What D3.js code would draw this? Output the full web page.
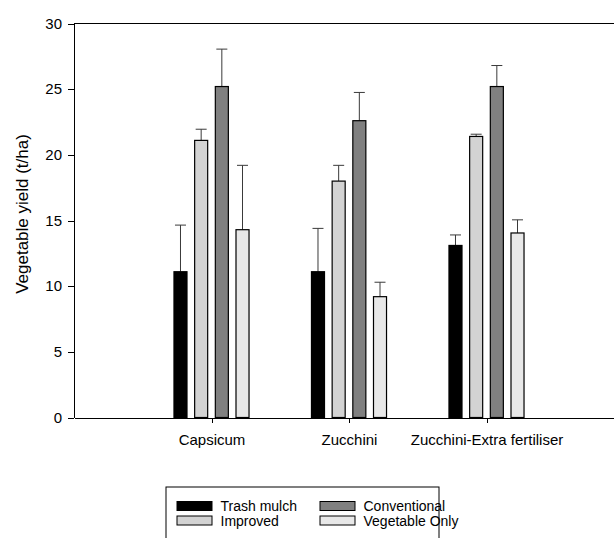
<!DOCTYPE html>
<meta charset="utf-8">
<style>
    body {
        margin: 0;
        background: #fff;
        font-family: "Liberation Sans", Arial, sans-serif;
    }

    .axis path,
    .axis line {
        fill: none;
        stroke: #000;
        shape-rendering: crispEdges;
    }

    .axis text {
        font-family: "Liberation Sans", Arial, sans-serif;
        font-size: 15px;
        fill: #000;
    }
</style>

<body>
    <script src="https://cdn.jsdelivr.net/npm/d3@7"></script>
    <script>

        // data
        var crops = ["Capsicum", "Zucchini", "Zucchini-Extra fertiliser"];
        var treatments = ["Trash mulch", "Improved", "Conventional", "Vegetable Only"];
        var colours = ["#000000", "#d3d3d3", "#808080", "#e8e8e8"];

        var trashMulch = [11.1, 11.1, 13.1];
        var improved = [21.1, 18.0, 21.4];
        var conventional = [25.2, 22.6, 25.2];
        var vegetableOnly = [14.3, 9.2, 14.05];

        var trashMulchErr = [3.55, 3.3, 0.8];
        var improvedErr = [0.85, 1.2, 0.17];
        var conventionalErr = [2.85, 2.15, 1.6];
        var vegetableOnlyErr = [4.9, 1.1, 1.0];

        var yTicks = [0, 5, 10, 15, 20, 25, 30];

        var values = [trashMulch, improved, conventional, vegetableOnly];
        var errors = [trashMulchErr, improvedErr, conventionalErr, vegetableOnlyErr];

        var data = [];
        crops.forEach(function (c, i) {
            treatments.forEach(function (t, j) {
                data.push({ crop: c, treatment: t, value: values[j][i], err: errors[j][i] });
            });
        });

        var margin = { top: 23.5, left: 74 },
            width = 550,
            height = 394;

        var svg = d3.select("body").append("svg")
            .attr("width", 614)
            .attr("height", 538);

        var g = svg.append("g")
            .attr("transform", "translate(" + margin.left + "," + margin.top + ")");

        var x = d3.scalePoint().domain(crops).range([0, width]).padding(1);
        var x1 = d3.scaleBand().domain(treatments)
            .range([-41.35, 41.35])
            .paddingInner(0.37)
            .paddingOuter(0.185);
        var y = d3.scaleLinear().domain([0, 30]).range([height, 0]);
        var color = d3.scaleOrdinal().domain(treatments).range(colours);

        // frame top line
        g.append("line")
            .attr("x1", 0).attr("x2", width)
            .attr("y1", 0).attr("y2", 0)
            .attr("stroke", "#000")
            .attr("shape-rendering", "crispEdges");

        var groups = g.selectAll(null)
            .data(crops)
            .enter()
            .append("g")
            .attr("transform", function (d) {
                return "translate(" + x(d) + ",0)";
            });

        var bars = groups.selectAll(null)
            .data(function (c) {
                return data.filter(function (d) { return d.crop === c; });
            })
            .enter();

        // error bars (upper only)
        bars.append("line")
            .attr("x1", function (d) { return x1(d.treatment) + x1.bandwidth() / 2; })
            .attr("x2", function (d) { return x1(d.treatment) + x1.bandwidth() / 2; })
            .attr("y1", function (d) { return y(d.value); })
            .attr("y2", function (d) { return y(d.value + d.err); })
            .attr("stroke", "#3a3a3a")
            .attr("stroke-width", 1);

        bars.append("line")
            .attr("x1", function (d) { return x1(d.treatment) + x1.bandwidth() / 2 - 5.5; })
            .attr("x2", function (d) { return x1(d.treatment) + x1.bandwidth() / 2 + 5.5; })
            .attr("y1", function (d) { return y(d.value + d.err); })
            .attr("y2", function (d) { return y(d.value + d.err); })
            .attr("stroke", "#3a3a3a")
            .attr("stroke-width", 1);

        bars.append("rect")
            .attr("x", function (d) { return x1(d.treatment); })
            .attr("y", function (d) { return y(d.value); })
            .attr("width", x1.bandwidth())
            .attr("height", function (d) { return height - y(d.value); })
            .attr("fill", function (d) { return color(d.treatment); })
            .attr("stroke", "#000")
            .attr("stroke-width", 1.2);

        g.append("g")
            .attr("class", "axis")
            .attr("transform", "translate(0," + height + ")")
            .call(d3.axisBottom(x).tickSize(5).tickSizeOuter(0).tickPadding(12));

        g.append("g")
            .attr("class", "axis")
            .call(d3.axisLeft(y).tickValues(yTicks).tickSize(6).tickSizeOuter(0).tickPadding(6));

        svg.append("text")
            .attr("transform", "translate(22,214) rotate(-90)")
            .attr("text-anchor", "middle")
            .attr("dy", "0.35em")
            .attr("font-size", "17px")
            .text("Vegetable yield (t/ha)");

        // legend
        var legend = svg.append("g").attr("transform", "translate(166,487)");
        legend.append("rect")
            .attr("x", 0).attr("y", 0)
            .attr("width", 273).attr("height", 60)
            .attr("fill", "#fff")
            .attr("stroke", "#000");

        var order = ["Trash mulch", "Improved", "Conventional", "Vegetable Only"];

        var items = legend.selectAll(null)
            .data(order)
            .enter()
            .append("g")
            .attr("transform", function (d, i) {
                var col = i < 2 ? 0 : 1;
                var row = i % 2;
                return "translate(" + (11 + col * 143) + "," + (14.5 + row * 14.5) + ")";
            });

        items.append("rect")
            .attr("width", 35).attr("height", 9)
            .attr("fill", function (d) { return color(d); })
            .attr("stroke", "#000")
            .attr("stroke-width", 1);

        items.append("text")
            .attr("x", 43.5)
            .attr("y", 9.5)
            .attr("font-size", "14px")
            .text(function (d) { return d; });

    </script>
